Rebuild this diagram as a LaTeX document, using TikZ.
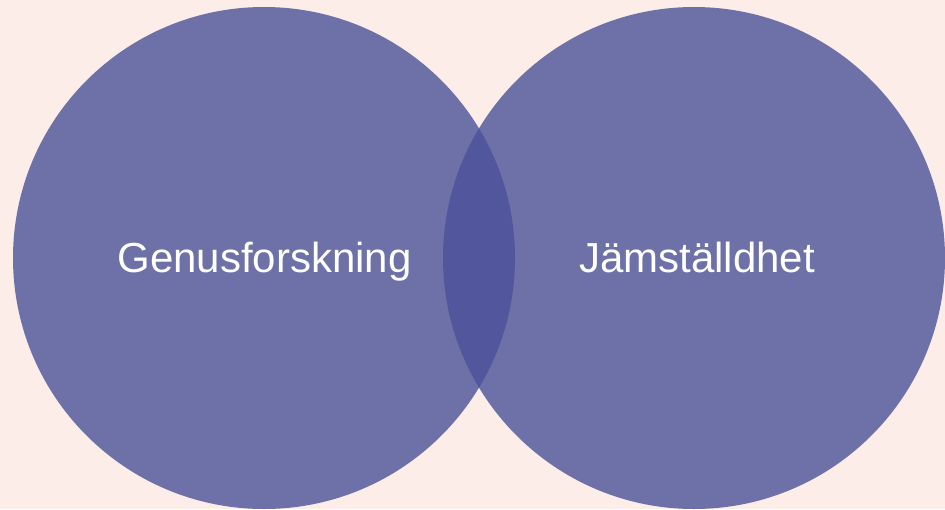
\documentclass[tikz,border=0pt]{standalone}
\usepackage{fontspec}
\setmainfont{Liberation Sans}
\definecolor{bgc}{HTML}{FDEDE9}
\definecolor{circc}{HTML}{6E71A8}
\definecolor{overc}{HTML}{52569C}
\begin{document}
\begin{tikzpicture}[x=1pt,y=-1pt,
  circ/.style={circle, fill=circc, minimum size=502pt, inner sep=0pt},
  lbl/.style={text=white, anchor=base, inner sep=0pt, font=\fontsize{42}{50}\selectfont}]
\fill[bgc] (0,0) rectangle (945,509);
\useasboundingbox (0,0) rectangle (945,509);
\node[circ] (L) at (264,258) {};
\node[circ] (R) at (694,258) {};
\begin{scope}
  \clip (264,258) circle[radius=251];
  \fill[overc] (694,258) circle[radius=251];
\end{scope}
\node[lbl] (tL) at (264.5,272) {Genusforskning};
\node[lbl] (tR) at (697,272) {Jämställdhet};
\end{tikzpicture}
\end{document}
